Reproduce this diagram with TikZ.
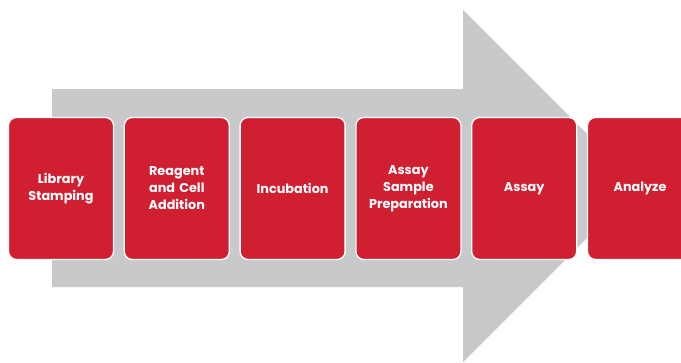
\documentclass[tikz,border=0pt]{standalone}
\usepackage{fontspec}
\setmainfont{Poppins}
\usepackage{tikz}
\usetikzlibrary{positioning}
\definecolor{stepred}{RGB}{209,31,50}
\definecolor{flowgray}{RGB}{200,201,203}

\begin{document}
\begin{tikzpicture}[
  x=1pt, y=-1pt,
  node distance=9.5pt and 9.5pt,
  box/.style={draw=white, line width=1.3pt, rounded corners=8pt, fill=stepred,
    minimum width=105pt, minimum height=142pt, text width=100pt, align=center,
    text=white, font=\bfseries\fontsize{12.8}{17}\selectfont, inner sep=0pt},
  bigarrow/.style={fill=flowgray, draw=none}
]
\useasboundingbox (0,0) rectangle (681,362);

% Background arrow
\fill[bigarrow] (52,89) -- (463,89) -- (463,10) -- (639,186)
  -- (463,362) -- (463,287) -- (52,287) -- cycle;

% Steps
\node[box] (stamp) at (61,188.5) {Library\\Stamping};
\node[box, right=of stamp] (reagent) {Reagent\\and Cell\\Addition};
\node[box, right=of reagent] (incub) {Incubation};
\node[box, right=of incub] (prep) {Assay\\Sample\\Preparation};
\node[box, right=of prep] (assay) {Assay};
\node[box, right=of assay] (analyze) {Analyze};

\end{tikzpicture}
\end{document}
